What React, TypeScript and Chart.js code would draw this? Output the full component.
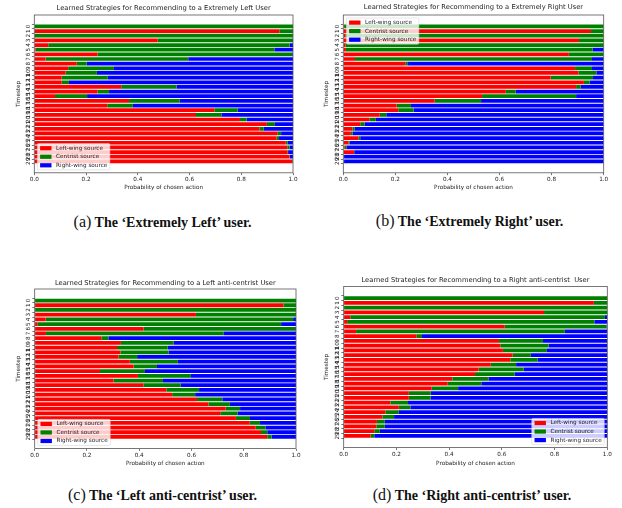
import React, { useEffect, useRef } from 'react';
import { Chart, registerables } from 'chart.js';

Chart.register(...registerables);

// ---------- data ----------
const TIMESTEPS = [0, 1, 2, 3, 4, 5, 6, 7, 8, 9, 10, 11, 12, 13, 14, 15, 16, 17, 18, 19, 20, 21, 22, 23, 24, 25, 26, 27, 28, 29];
const X_TICKS = [0, 0.2, 0.4, 0.6, 0.8, 1.0];
const SERIES_LABELS = ['Left-wing source', 'Centrist source', 'Right-wing source'];
const SERIES_COLORS = ['#ff0000', '#008000', '#0000ff'];

// (a) Extremely Left user
const leftA = [0, 0.947, 0, 0.477, 0.054, 0.005, 0.244, 0.043, 0.164, 0.131, 0.12, 0.106, 0.106, 0.336, 0.244, 0.08, 0.366, 0.282, 0.696, 0.625, 0.795, 0.899, 0.87, 0.941, 0.936, 0.972, 0.978, 0.978, 0.986, 0.997];
const centristA = [1, 0.053, 1, 0.523, 0.933, 0.923, 0.753, 0.552, 0.038, 0.177, 0.122, 0.178, 0.028, 0.214, 0.045, 0.124, 0.195, 0.099, 0.09, 0.098, 0.026, 0.031, 0.017, 0.013, 0.01, 0.007, 0.009, 0.003, 0.001, 0.002];
const rightA = [0, 0, 0, 0, 0.013, 0.072, 0.003, 0.405, 0.798, 0.692, 0.758, 0.716, 0.866, 0.45, 0.711, 0.796, 0.439, 0.619, 0.214, 0.277, 0.179, 0.07, 0.113, 0.046, 0.054, 0.021, 0.013, 0.019, 0.013, 0.001];

// (b) Extremely Right user
const leftB = [0.003, 0.951, 0.008, 0.905, 0.008, 0.01, 0.866, 0.045, 0.238, 0.89, 0.903, 0.796, 0.924, 0.894, 0.624, 0.533, 0.351, 0.205, 0.211, 0.14, 0.1, 0.065, 0.035, 0.029, 0.058, 0.02, 0.005, 0.041, 0.002, 0.002];
const centristB = [0.997, 0.049, 0.992, 0.095, 0.992, 0.948, 0.133, 0.91, 0.008, 0.065, 0.069, 0.163, 0.022, 0.018, 0.038, 0.361, 0.178, 0.055, 0.059, 0.025, 0.025, 0.017, 0.009, 0.007, 0.007, 0.004, 0.007, 0.001, 0.001, 0.001];
const rightB = [0, 0, 0, 0, 0, 0.042, 0.001, 0.045, 0.754, 0.045, 0.028, 0.041, 0.054, 0.088, 0.338, 0.106, 0.471, 0.74, 0.73, 0.835, 0.875, 0.918, 0.956, 0.964, 0.935, 0.976, 0.988, 0.958, 0.997, 0.997];

// (c) Left anti-centrist user
const leftC = [0, 0.952, 0, 0.617, 0.042, 0.01, 0.416, 0.043, 0.255, 0.33, 0.315, 0.328, 0.321, 0.364, 0.378, 0.25, 0.395, 0.301, 0.416, 0.504, 0.526, 0.621, 0.665, 0.731, 0.71, 0.77, 0.823, 0.846, 0.866, 0.89];
const centristC = [1, 0.048, 1, 0.383, 0.947, 0.933, 0.581, 0.679, 0.027, 0.201, 0.194, 0.185, 0.071, 0.184, 0.09, 0.172, 0.203, 0.19, 0.143, 0.125, 0.088, 0.097, 0.082, 0.055, 0.066, 0.054, 0.039, 0.037, 0.024, 0.017];
const rightC = [0, 0, 0, 0, 0.011, 0.057, 0.003, 0.278, 0.718, 0.469, 0.491, 0.487, 0.608, 0.452, 0.532, 0.578, 0.402, 0.509, 0.441, 0.371, 0.386, 0.282, 0.253, 0.214, 0.224, 0.176, 0.138, 0.117, 0.11, 0.093];

// (d) Right anti-centrist user
const leftD = [0, 0.949, 0, 0.76, 0.025, 0.013, 0.611, 0.047, 0.277, 0.589, 0.594, 0.604, 0.641, 0.632, 0.558, 0.512, 0.498, 0.412, 0.393, 0.334, 0.247, 0.247, 0.177, 0.209, 0.158, 0.147, 0.126, 0.124, 0.116, 0.102];
const centristD = [1, 0.051, 1, 0.24, 0.966, 0.938, 0.386, 0.792, 0.02, 0.167, 0.183, 0.167, 0.069, 0.103, 0.096, 0.171, 0.151, 0.137, 0.129, 0.1, 0.083, 0.083, 0.067, 0.044, 0.051, 0.044, 0.03, 0.032, 0.021, 0.014];
const rightD = [0, 0, 0, 0, 0.009, 0.049, 0.003, 0.161, 0.703, 0.244, 0.223, 0.229, 0.29, 0.265, 0.346, 0.317, 0.351, 0.451, 0.478, 0.566, 0.67, 0.67, 0.756, 0.747, 0.791, 0.809, 0.844, 0.844, 0.863, 0.884];

// ---------- styling ----------
const FONT = 'DejaVu Sans';
const TXT = '#222222';
const AX = '#555555';
const SMALL = 5.7;
const TITLE_SIZE = 6.75;

type Geo = {
  x: number; y: number; w: number; h: number;
  left: number; right: number; top: number; bottom: number;
  titleY: number; yTitleX: number; xTitleY: number;
};

const framePlugin = {
  id: 'mplFrame',
  afterDatasetsDraw(chart: any, _args: any, opts: any) {
    const { ctx, chartArea: ca } = chart;
    ctx.save();
    ctx.strokeStyle = AX;
    ctx.lineWidth = 0.8;
    ctx.strokeRect(ca.left, ca.top, ca.right - ca.left, ca.bottom - ca.top);

    // legend (matplotlib style)
    const loc: string = (opts && opts.loc) || 'lower left';
    const items = chart.data.datasets.map((d: any) => ({ label: d.label, color: d.backgroundColor }));
    ctx.font = `${SMALL}px "${FONT}"`;
    const tw = Math.max(...items.map((i: any) => ctx.measureText(i.label).width));
    const w = 2.8 + 11.4 + 4.6 + tw + 2.6;
    const h = 26.2;
    const inset = 3;
    const lx = loc.includes('right') ? ca.right - inset - w : ca.left + inset;
    const ly = loc.includes('upper') ? ca.top + inset : ca.bottom - inset - h;
    ctx.beginPath();
    const r = 1.2;
    ctx.moveTo(lx + r, ly);
    ctx.lineTo(lx + w - r, ly);
    ctx.quadraticCurveTo(lx + w, ly, lx + w, ly + r);
    ctx.lineTo(lx + w, ly + h - r);
    ctx.quadraticCurveTo(lx + w, ly + h, lx + w - r, ly + h);
    ctx.lineTo(lx + r, ly + h);
    ctx.quadraticCurveTo(lx, ly + h, lx, ly + h - r);
    ctx.lineTo(lx, ly + r);
    ctx.quadraticCurveTo(lx, ly, lx + r, ly);
    ctx.closePath();
    ctx.fillStyle = 'rgba(255,255,255,0.8)';
    ctx.fill();
    ctx.strokeStyle = 'rgba(204,204,204,0.8)';
    ctx.lineWidth = 0.6;
    ctx.stroke();
    items.forEach((it: any, i: number) => {
      const cy = ly + 4.6 + i * 8.55;
      ctx.fillStyle = it.color;
      ctx.fillRect(lx + 2.8, cy - 2.1, 11.4, 4.2);
      ctx.fillStyle = TXT;
      ctx.textBaseline = 'middle';
      ctx.textAlign = 'left';
      ctx.fillText(it.label, lx + 2.8 + 11.4 + 4.6, cy);
    });
    ctx.restore();
  },
};

function Panel(props: {
  geo: Geo; title: string; legendLoc: string;
  left: number[]; centrist: number[]; right: number[];
}) {
  const ref = useRef<HTMLCanvasElement | null>(null);
  const { geo: g } = props;
  useEffect(() => {
    if (!ref.current) return;
    const font = { family: FONT, size: SMALL };
    const lh = TITLE_SIZE * 1.2;
    const slh = SMALL * 1.2;
    const series = [props.left, props.centrist, props.right];
    const chart = new Chart(ref.current, {
      type: 'bar',
      data: {
        labels: TIMESTEPS,
        datasets: series.map((d, i) => ({
          label: SERIES_LABELS[i],
          data: d,
          backgroundColor: SERIES_COLORS[i],
          borderWidth: 0,
          barPercentage: 0.8,
          categoryPercentage: 1.0,
        })),
      },
      options: {
        indexAxis: 'y',
        responsive: false,
        animation: false,
        events: [],
        layout: { padding: { left: 0, top: 0, right: g.w - g.right, bottom: 0 } },
        plugins: {
          legend: { display: false },
          tooltip: { enabled: false },
          title: {
            display: true,
            text: props.title,
            fullSize: false,
            color: TXT,
            font: { family: FONT, size: TITLE_SIZE, weight: 'normal' },
            padding: { top: g.titleY - lh / 2, bottom: g.top - g.titleY - lh / 2 },
          },
          mplFrame: { loc: props.legendLoc },
        } as any,
        scales: {
          x: {
            type: 'linear',
            stacked: true,
            min: 0,
            max: 1,
            afterBuildTicks: (axis: any) => { axis.ticks = X_TICKS.map((v) => ({ value: v })); },
            afterFit: (s: any) => { s.height = g.h - g.bottom; },
            ticks: {
              font, color: TXT, padding: 1, maxRotation: 0, autoSkip: false,
              callback: (v: any) => Number(v).toFixed(1),
            },
            grid: { drawOnChartArea: false, drawTicks: true, tickLength: 2.4, color: AX, lineWidth: 0.8 },
            border: { display: false },
            title: {
              display: true, text: 'Probability of chosen action', color: TXT, font,
              padding: { top: 0, bottom: g.h - g.xTitleY - slh / 2 },
            },
          },
          y: {
            type: 'linear',
            reverse: true,
            stacked: true,
            min: -1.89,
            max: 30.89,
            afterBuildTicks: (axis: any) => { axis.ticks = TIMESTEPS.map((v) => ({ value: v })); },
            afterFit: (s: any) => { s.width = g.left; },
            ticks: {
              font, color: TXT, padding: 0, autoSkip: false,
              minRotation: 90, maxRotation: 90, crossAlign: 'center',
              callback: (v: any) => String(v),
            },
            grid: { drawOnChartArea: false, drawTicks: true, tickLength: 2.4, color: AX, lineWidth: 0.8 },
            border: { display: false },
            title: {
              display: true, text: 'Timestep', color: TXT, font,
              padding: { top: g.yTitleX - slh / 2, bottom: 0 },
            },
          },
        } as any,
      },
      plugins: [framePlugin],
    } as any);
    return () => chart.destroy();
  }, []);
  return (
    <canvas
      ref={ref}
      width={g.w}
      height={g.h}
      style={{ position: 'absolute', left: g.x, top: g.y, width: g.w, height: g.h }}
    />
  );
}

function Caption(props: { x: number; y: number; letter: string; text: string }) {
  return (
    <div
      style={{
        position: 'absolute', left: props.x, top: props.y - 10, height: 20, lineHeight: '20px',
        transform: 'translateX(-50%)', whiteSpace: 'nowrap', color: '#111',
        fontFamily: '"Liberation Serif", "DejaVu Serif", serif',
      }}
    >
      <span style={{ fontSize: 16 }}>({props.letter})</span>
      <span style={{ fontSize: 14, fontWeight: 'bold' }}> {props.text}</span>
    </div>
  );
}

const GEO_A: Geo = { x: 0, y: 0, w: 311, h: 196, left: 34.3, right: 293, top: 15, bottom: 172.8, titleY: 8.5, yTitleX: 18.7, xTitleY: 187.3 };
const GEO_B: Geo = { x: 311, y: 0, w: 311, h: 196, left: 32.3, right: 292.7, top: 15, bottom: 172.8, titleY: 7.5, yTitleX: 16, xTitleY: 187.3 };
const GEO_C: Geo = { x: 0, y: 250, w: 311, h: 220, left: 34.7, right: 296, top: 39, bottom: 198.5, titleY: 33.3, yTitleX: 18.7, xTitleY: 213.5 };
const GEO_D: Geo = { x: 311, y: 250, w: 311, h: 220, left: 32.7, right: 296.3, top: 36.5, bottom: 197.6, titleY: 30.7, yTitleX: 15.7, xTitleY: 213.5 };

export default function App() {
  return (
    <div style={{ position: 'absolute', left: 0, top: 0, width: 622, height: 508, background: '#fff', overflow: 'hidden' }}>
      <Panel geo={GEO_A} title="Learned Strategies for Recommending to a Extremely Left User" legendLoc="lower left" left={leftA} centrist={centristA} right={rightA} />
      <Panel geo={GEO_B} title="Learned Strategies for Recommending to a Extremely Right User" legendLoc="upper left" left={leftB} centrist={centristB} right={rightB} />
      <Panel geo={GEO_C} title="Learned Strategies for Recommending to a Left anti-centrist User" legendLoc="lower left" left={leftC} centrist={centristC} right={rightC} />
      <Panel geo={GEO_D} title="Learned Strategies for Recommending to a Right anti-centrist  User" legendLoc="lower right" left={leftD} centrist={centristD} right={rightD} />
      <Caption x={162.5} y={222} letter="a" text="The ‘Extremely Left’ user." />
      <Caption x={469.5} y={221} letter="b" text="The ‘Extremely Right’ user." />
      <Caption x={162.5} y={495} letter="c" text="The ‘Left anti-centrist’ user." />
      <Caption x={472} y={495} letter="d" text="The ‘Right anti-centrist’ user." />
    </div>
  );
}
